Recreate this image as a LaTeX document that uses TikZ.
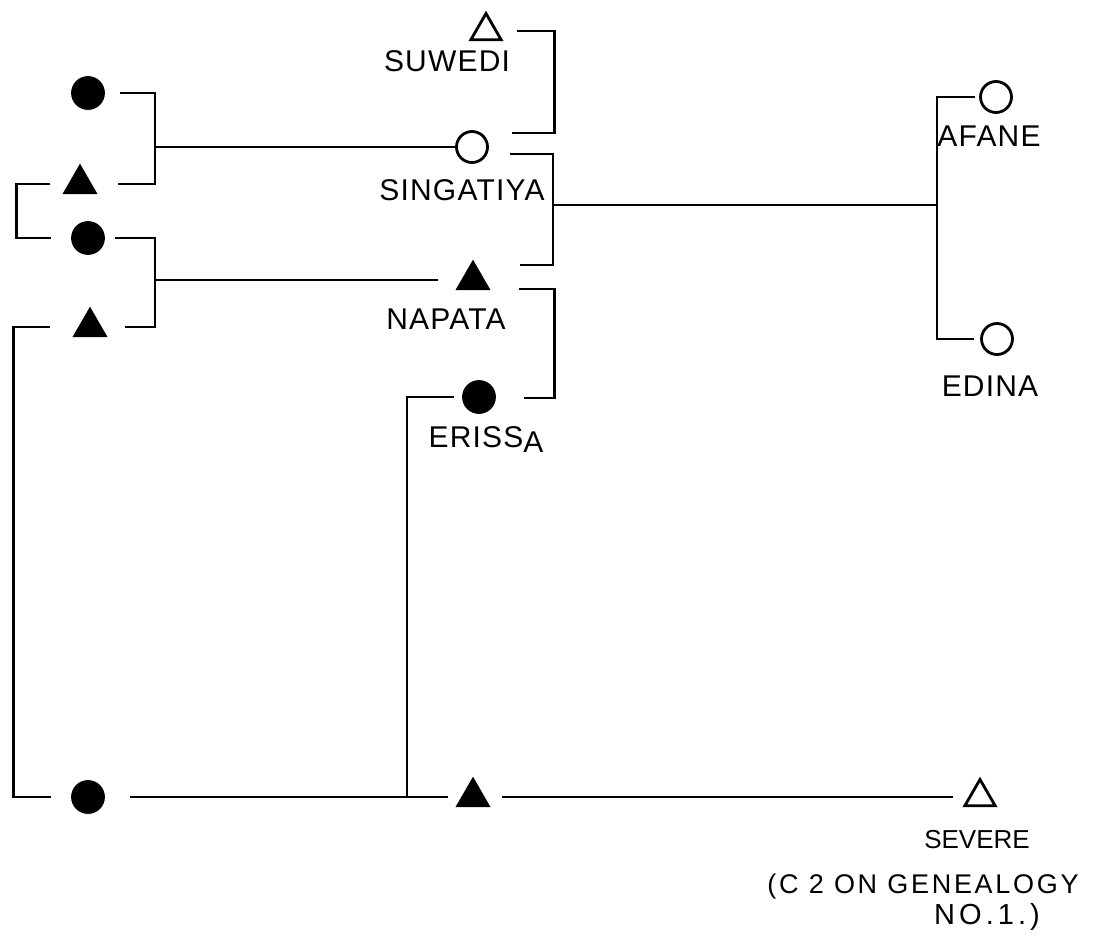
\documentclass[tikz,border=0pt]{standalone}
\usepackage{fontspec}
\setmainfont{Liberation Sans}
\usetikzlibrary{shapes.geometric,positioning}

\begin{document}
\begin{tikzpicture}[x=1pt,y=-1pt,line width=2.8pt,
fem/.style={circle,draw,minimum size=31pt,inner sep=0pt},
male/.style={regular polygon,regular polygon sides=3,draw,minimum size=35pt,inner sep=0pt},
gone/.style={fill=black},
lbl/.style={font=\fontsize{30}{34}\selectfont\addfontfeature{LetterSpace=4},inner sep=0pt,anchor=base},
remark/.style={font=\fontsize{27}{30}\selectfont\addfontfeature{LetterSpace=10},inner sep=0pt,anchor=base}]
\useasboundingbox (0,0) rectangle (1109,949);
% left-hand generation
\node[fem,gone] (m1) at (88,93) {};
\node[male,gone] (f1) at (80,184) {};
\node[fem,gone] (m2) at (88,238) {};
\node[male,gone] (f2) at (90,327) {};
\node[fem,gone] (m3) at (88,797) {};
% middle generation
\node[male] (suwedi) at (486,31) {};
\node[lbl] (suwedi-l) at (447,72) {SUWEDI};
\node[fem] (singatiya) at (472,147) {};
\node[lbl] (singatiya-l) at (462,201) {SINGATIYA};
\node[male,gone] (napata) at (473,280) {};
\node[lbl] (napata-l) at (446,330) {NAPATA};
\node[fem,gone] (erissa) at (479,397) {};
\node[lbl] (erissa-l) at (486,448) {ERISS\raisebox{-5pt}{A}};
\node[male,gone] (son) at (473,797) {};
% right-hand side
\node[fem] (afane) at (996,97) {};
\node[lbl] (afane-l) at (989,147) {AFANE};
\node[fem] (edina) at (997,339) {};
\node[lbl] (edina-l) at (990,397) {EDINA};
\node[male] (severe) at (980,797) {};
\node[remark,font=\fontsize{26}{30}\selectfont] (severe-l) at (977,848) {SEVERE};
\node[remark] (ref-l) at (923,893) {(C 2 ON GENEALOGY};
\node[remark,font=\fontsize{29}{30}\selectfont\addfontfeature{LetterSpace=14}] (no-l) at (987,924) {NO.1.)};
% junctions
\coordinate (jA) at (155,147);
\coordinate (jC) at (155,280);
\coordinate (jS) at (553,205);
\coordinate (jR) at (937,205);
\coordinate (jE) at (407,797);
% sibling and marriage lines
\draw ([xshift=15pt]m1.east) -| (jA) |- ([xshift=26pt]f1.east);
\draw (jA) -- (singatiya);
\draw ([xshift=-18pt]f1.west) -- ++(-34,0) |- ([xshift=-20pt]m2.west);
\draw ([xshift=10pt]m2.east) -| (jC) |- ([xshift=23pt]f2.east);
\draw (jC) -- ([xshift=-23pt]napata.west);
\draw ([xshift=-28pt]f2.west) -- ++(-37,0) |- ([xshift=-20pt]m3.west);
\draw ([xshift=25pt]m3.east) -- ([xshift=-13pt]son.west |- m3.east);
\draw (jE) |- ([xshift=-8pt]erissa.west);
\draw ([xshift=17pt]son.east) -- ([xshift=-15pt]severe.west);
\draw ([xshift=19pt]suwedi.east) -| ++(38,102) -- ++(-43,0);
\draw ([shift={(21,7)}]singatiya.east) -| (jS) |- ([shift={(35,-15)}]napata.east);
\draw (jS) -- (jR);
\draw ([shift={(34,9)}]napata.east) -- ++(36,0) |- ([shift={(28,1)}]erissa.east);
\draw ([xshift=-4pt]afane.west) -| (jR) |- ([xshift=-6pt]edina.west);
\end{tikzpicture}
\end{document}
